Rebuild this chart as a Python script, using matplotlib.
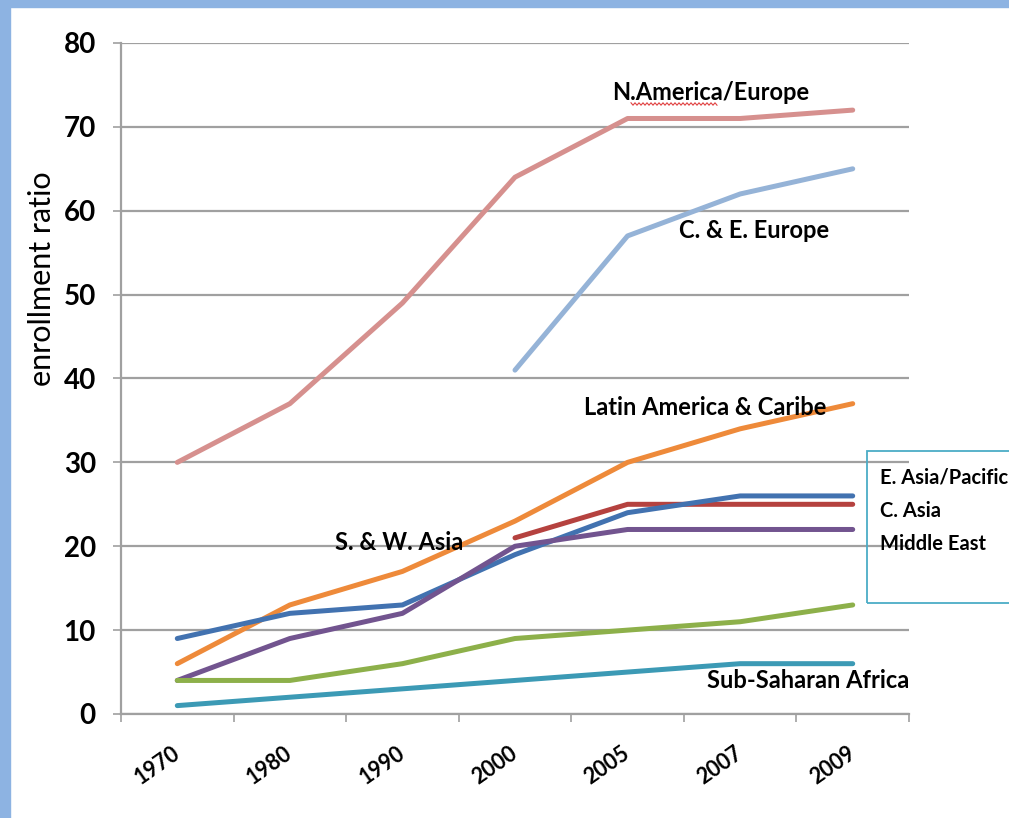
import matplotlib
matplotlib.use("Agg")
import matplotlib.pyplot as plt
from matplotlib import font_manager as fm
from matplotlib.patches import Rectangle
from matplotlib.lines import Line2D
import numpy as np

# --- DATA ---
years = ["1970", "1980", "1990", "2000", "2005", "2007", "2009"]
na_europe = [30, 37, 49, 64, 71, 71, 72]
ce_europe = [np.nan, np.nan, np.nan, 41, 57, 62, 65]
latin_am = [6, 13, 17, 23, 30, 34, 37]
east_asia = [9, 12, 13, 19, 24, 26, 26]
central_asia = [np.nan, np.nan, np.nan, 21, 25, 25, 25]
middle_east = [4, 9, 12, 20, 22, 22, 22]
sw_asia = [4, 4, 6, 9, 10, 11, 13]
ss_africa = [1, 2, 3, 4, 5, 6, 6]
y_ticks = [0, 10, 20, 30, 40, 50, 60, 70, 80]


def pick_font(names):
    for n in names:
        try:
            fm.findfont(fm.FontProperties(family=n), fallback_to_default=False)
            return n
        except ValueError:
            pass
    return "DejaVu Sans"


FONT = pick_font(["Liberation Sans Narrow", "DejaVu Sans Condensed", "Lato", "DejaVu Sans"])
plt.rcParams["font.family"] = [FONT, "DejaVu Sans"]

W, H = 1009, 818
fig = plt.figure(figsize=(W / 100, H / 100), dpi=100)
fig.patch.set_facecolor("white")

# slide border (blue strips top / left)
fig.patches.append(Rectangle((0, 1 - 7 / H), 1, 7 / H, transform=fig.transFigure,
                             color="#8DB3E2", zorder=0))
fig.patches.append(Rectangle((0, 0), 10 / W, 1, transform=fig.transFigure,
                             color="#8DB3E2", zorder=0))

ax = fig.add_axes([121 / W, 104 / H, 788 / W, 671 / H])
x = np.arange(len(years))

series = [
    (na_europe, "#D6908E"),
    (ce_europe, "#95B3D7"),
    (latin_am, "#EE8A3A"),
    (central_asia, "#B5423F"),
    (east_asia, "#4272B0"),
    (middle_east, "#72548F"),
    (sw_asia, "#8DB04A"),
    (ss_africa, "#3C9AB5"),
]
for vals, col in series:
    ax.plot(x, vals, color=col, lw=3.6, solid_capstyle="round",
            solid_joinstyle="round", zorder=3)

ax.set_xlim(-0.5, len(years) - 0.5)
ax.set_ylim(0, 80)

grid_col = "#A0A0A0"
ax.set_yticks(y_ticks)
ax.set_yticklabels([str(v) for v in y_ticks], fontsize=20, fontweight="bold")
ax.yaxis.grid(True, color=grid_col, lw=1.6, zorder=1)
ax.tick_params(axis="y", length=6, width=1.2, color=grid_col, pad=12)

ax.set_xticks(x)
ax.set_xticklabels(years, fontsize=15.5, fontweight="bold", rotation=35,
                   ha="right", va="center", rotation_mode="anchor")
ax.set_xticks(np.arange(len(years) + 1) - 0.5, minor=True)
ax.tick_params(axis="x", which="major", length=0, pad=27)
ax.tick_params(axis="x", which="minor", length=6, width=1.2, color=grid_col)

for s in ["top", "right"]:
    ax.spines[s].set_visible(False)
for s in ["left", "bottom"]:
    ax.spines[s].set_color(grid_col)
    ax.spines[s].set_linewidth(1.6)

# axis title sits above the axis middle, as in the source slide
fig.text(42 / W, 1 - 279 / H, "enrollment ratio", fontsize=22, rotation=90,
         ha="center", va="center")

# series labels
lab = dict(fontsize=17, fontweight="bold", color="black", va="baseline",
           ha="left", zorder=5)
ax.text(3.86, 73.2, "N.America/Europe", **lab)
ax.text(4.46, 56.7, "C. & E. Europe", **lab)
ax.text(3.61, 35.6, "Latin America & Caribe", **lab)
ax.text(1.40, 19.5, "S. & W. Asia", **lab)
ax.text(4.71, 3.1, "Sub-Saharan Africa", **lab)

# spell-check squiggle under "America"
sx = np.arange(631, 719, 2.0)
sy = 104 + np.where(np.arange(len(sx)) % 2 == 0, -1.2, 1.2)
fig.add_artist(Line2D(sx / W, 1 - sy / H, transform=fig.transFigure,
                      color="#E04040", lw=0.8))

# boxed labels at the right edge
fig.patches.append(Rectangle((867 / W, 1 - 603 / H), 200 / W, 152 / H,
                             transform=fig.transFigure, fill=False,
                             edgecolor="#4BACC6", lw=1.3, zorder=4))
for txt, yb in [("E. Asia/Pacific", 483), ("C. Asia", 517), ("Middle East", 550)]:
    fig.text(880 / W, 1 - yb / H, txt, fontsize=14.5, fontweight="bold",
             va="baseline", ha="left")

fig.savefig("out.png", dpi=100, facecolor="white")
